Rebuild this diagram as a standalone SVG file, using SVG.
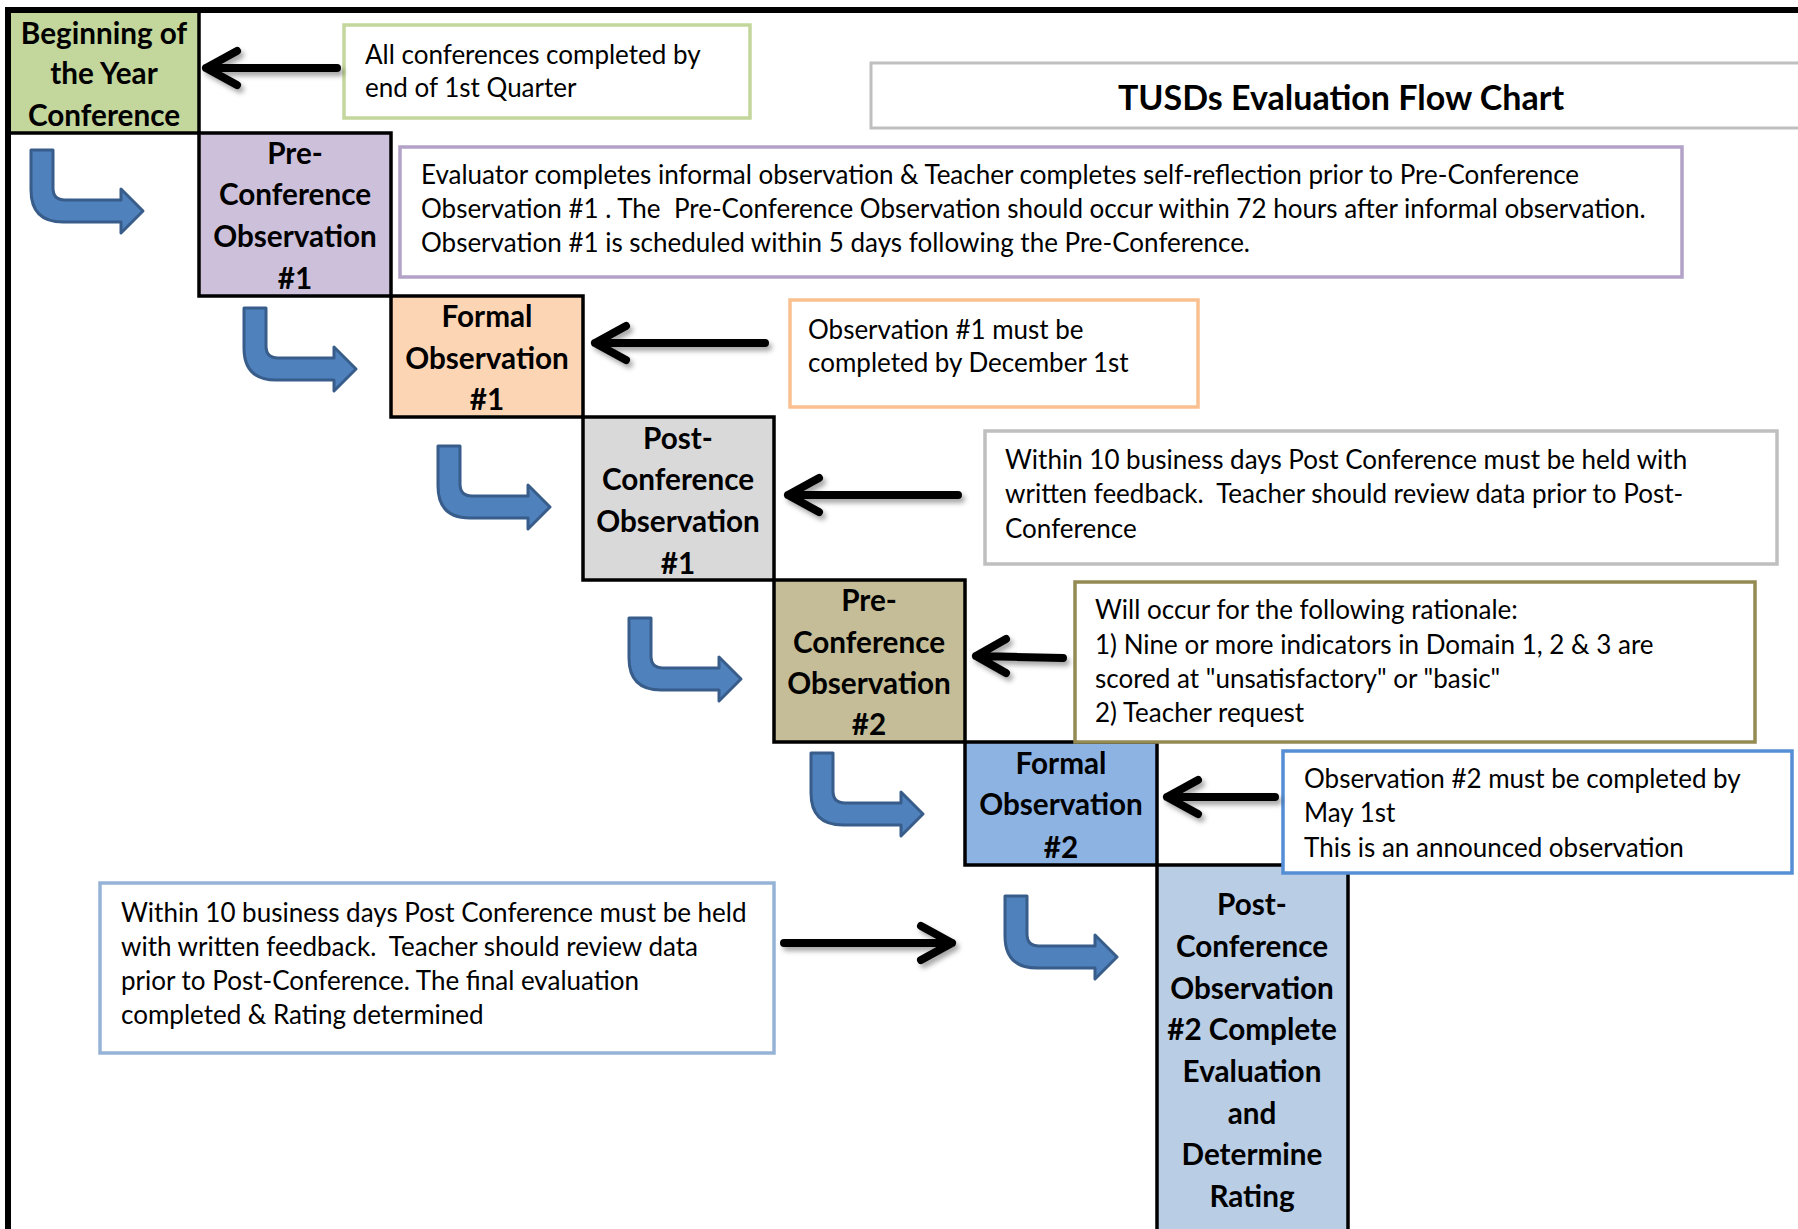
<svg xmlns="http://www.w3.org/2000/svg" width="1798" height="1229" viewBox="0 0 1798 1229">
<style>
.step{stroke:#000;stroke-width:3.5}
.nt{font-family:Lato,"Liberation Sans",sans-serif;font-weight:bold;font-size:29.7px;fill:#000;text-anchor:middle;transform:translateY(1.5px)}
.ct{font-family:Lato,"Liberation Sans",sans-serif;font-size:26px;fill:#000;transform:translateY(2px)}
.call{fill:#fff;stroke-width:3.5}
.bent{fill:#4f81bd;stroke:#385d8a;stroke-width:3;stroke-linejoin:round}
.blk{fill:none;stroke:#000;stroke-width:8;stroke-linecap:round;stroke-linejoin:round;filter:url(#sh)}
</style>
<defs>
<filter id="sh" x="-20%" y="-50%" width="140%" height="200%">
<feDropShadow dx="3" dy="4" stdDeviation="2.5" flood-color="#000" flood-opacity="0.35"/>
</filter>
<path id="bentArrow" d="M0,0 L22,0 L22,38 Q22,50 34,50 L90,50 L90,39 L112,61 L90,83 L90,72 L32,72 Q0,72 0,40 Z"/>
</defs>
<rect width="1798" height="1229" fill="#fff"/>

<g id="title">
<rect x="871" y="63" width="945" height="65" fill="#fff" stroke="#bfbfbf" stroke-width="3"/>
<text x="1341" y="110" font-family="Lato,'Liberation Sans',sans-serif" font-weight="bold" font-size="34" text-anchor="middle">TUSDs Evaluation Flow Chart</text>
</g>

<g id="step1">
<rect class="step" x="8" y="10" width="191" height="123" fill="#c3d69b"/>
<text class="nt" x="104" y="42">Beginning of</text>
<text class="nt" x="104" y="82">the Year</text>
<text class="nt" x="104" y="124">Conference</text>
</g>
<g id="step2">
<rect class="step" x="199" y="133" width="192" height="163" fill="#ccc0da"/>
<text class="nt" x="295" y="162">Pre-</text>
<text class="nt" x="295" y="203">Conference</text>
<text class="nt" x="295" y="245">Observation</text>
<text class="nt" x="295" y="287">#1</text>
</g>
<g id="step3">
<rect class="step" x="391" y="296" width="192" height="121" fill="#fcd5b5"/>
<text class="nt" x="487" y="325">Formal</text>
<text class="nt" x="487" y="367">Observation</text>
<text class="nt" x="487" y="408">#1</text>
</g>
<g id="step4">
<rect class="step" x="583" y="417" width="191" height="163" fill="#d9d9d9"/>
<text class="nt" x="678" y="447">Post-</text>
<text class="nt" x="678" y="488">Conference</text>
<text class="nt" x="678" y="530">Observation</text>
<text class="nt" x="678" y="572">#1</text>
</g>
<g id="step5">
<rect class="step" x="774" y="580" width="191" height="162" fill="#c4bd97"/>
<text class="nt" x="869" y="609">Pre-</text>
<text class="nt" x="869" y="651">Conference</text>
<text class="nt" x="869" y="692">Observation</text>
<text class="nt" x="869" y="733">#2</text>
</g>
<g id="step6">
<rect class="step" x="965" y="742" width="192" height="123" fill="#8db3e2"/>
<text class="nt" x="1061" y="772">Formal</text>
<text class="nt" x="1061" y="813">Observation</text>
<text class="nt" x="1061" y="856">#2</text>
</g>
<g id="step7">
<rect class="step" x="1157" y="865" width="191" height="380" fill="#b9cde5"/>
<text class="nt" x="1252" y="913">Post-</text>
<text class="nt" x="1252" y="955">Conference</text>
<text class="nt" x="1252" y="997">Observation</text>
<text class="nt" x="1252" y="1038">#2 Complete</text>
<text class="nt" x="1252" y="1080">Evaluation</text>
<text class="nt" x="1252" y="1122">and</text>
<text class="nt" x="1252" y="1163">Determine</text>
<text class="nt" x="1252" y="1205">Rating</text>
</g>

<g id="frame">
<rect x="5" y="7" width="1793" height="6" fill="#000"/>
<rect x="5" y="7" width="6" height="1222" fill="#000"/>
</g>

<g id="note1">
<rect class="call" x="344" y="25" width="406" height="93" stroke="#c3d69b"/>
<text class="ct" x="365" y="62">All conferences completed by</text>
<text class="ct" x="365" y="95">end of 1st Quarter</text>
</g>
<g id="note2">
<rect class="call" x="400" y="147" width="1282" height="130" stroke="#b3a2c7"/>
<text class="ct" x="421" y="182">Evaluator completes informal observation &amp; Teacher completes self-reflection prior to Pre-Conference</text>
<text class="ct" x="421" y="216" xml:space="preserve">Observation #1 . The  Pre-Conference Observation should occur within 72 hours after informal observation.</text>
<text class="ct" x="421" y="250">Observation #1 is scheduled within 5 days following the Pre-Conference.</text>
</g>
<g id="note3">
<rect class="call" x="790" y="300" width="408" height="107" stroke="#fac090"/>
<text class="ct" x="808" y="337">Observation #1 must be</text>
<text class="ct" x="808" y="370">completed by December 1st</text>
</g>
<g id="note4">
<rect class="call" x="985" y="431" width="792" height="133" stroke="#bfbfbf"/>
<text class="ct" x="1005" y="467">Within 10 business days Post Conference must be held with</text>
<text class="ct" x="1005" y="501" xml:space="preserve">written feedback.  Teacher should review data prior to Post-</text>
<text class="ct" x="1005" y="536">Conference</text>
</g>
<g id="note5">
<rect class="call" x="1075" y="582" width="680" height="160" stroke="#948a54"/>
<text class="ct" x="1095" y="617">Will occur for the following rationale:</text>
<text class="ct" x="1095" y="652">1) Nine or more indicators in Domain 1, 2 &amp; 3 are</text>
<text class="ct" x="1095" y="686">scored at "unsatisfactory" or "basic"</text>
<text class="ct" x="1095" y="720">2) Teacher request</text>
</g>
<g id="note6">
<rect class="call" x="1283" y="751" width="509" height="122" stroke="#558ed5"/>
<text class="ct" x="1304" y="786">Observation #2 must be completed by</text>
<text class="ct" x="1304" y="820">May 1st</text>
<text class="ct" x="1304" y="855">This is an announced observation</text>
</g>
<g id="note7">
<rect class="call" x="100" y="883" width="674" height="170" stroke="#95b3d7"/>
<text class="ct" x="121" y="920">Within 10 business days Post Conference must be held</text>
<text class="ct" x="121" y="954" xml:space="preserve">with written feedback.  Teacher should review data</text>
<text class="ct" x="121" y="988">prior to Post-Conference. The final evaluation</text>
<text class="ct" x="121" y="1022">completed &amp; Rating determined</text>
</g>

<g id="connectors">
<use href="#bentArrow" class="bent" x="31" y="150"/>
<use href="#bentArrow" class="bent" x="244" y="308"/>
<use href="#bentArrow" class="bent" x="438" y="446"/>
<use href="#bentArrow" class="bent" x="629" y="618"/>
<use href="#bentArrow" class="bent" x="811" y="753"/>
<use href="#bentArrow" class="bent" x="1005" y="896"/>
<path class="blk" d="M337,68 L206,68 M237,51 L206,68 L237,85"/>
<path class="blk" d="M765,343 L595,343 M626,326 L595,343 L626,360"/>
<path class="blk" d="M958,495 L788,495 M819,478 L788,495 L819,512"/>
<path class="blk" d="M1063,658 L976,656 M1006,639 L976,656 L1006,673"/>
<path class="blk" d="M1275,797 L1167,797 M1198,780 L1167,797 L1198,814"/>
<path class="blk" d="M784,943 L952,943 M921,926 L952,943 L921,960"/>
</g>
</svg>
